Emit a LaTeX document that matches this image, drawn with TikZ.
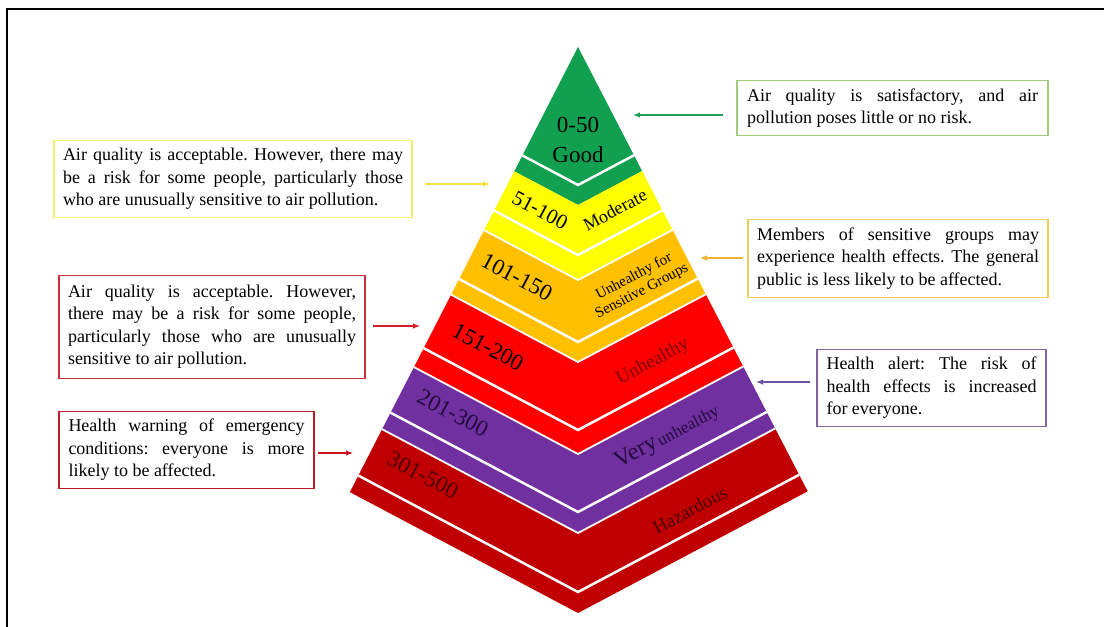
\documentclass[tikz,border=0pt]{standalone}
\usepackage{fontspec}
\setmainfont{Liberation Serif}
\usetikzlibrary{arrows.meta}
\frenchspacing
\definecolor{pgreen}{RGB}{16,160,80}
\definecolor{pyellow}{RGB}{255,255,0}
\definecolor{porange}{RGB}{255,192,0}
\definecolor{pred}{RGB}{255,0,0}
\definecolor{ppurple}{RGB}{112,48,160}
\definecolor{pdark}{RGB}{192,0,0}
\definecolor{bgreen}{RGB}{160,204,120}
\definecolor{byellow}{RGB}{244,238,110}
\definecolor{borange}{RGB}{242,204,90}
\definecolor{bred}{RGB}{196,48,56}
\definecolor{bpurple}{RGB}{128,100,162}
\definecolor{bdark}{RGB}{190,30,40}
\definecolor{agreen}{RGB}{30,158,90}
\definecolor{ayellow}{RGB}{240,228,60}
\definecolor{aorange}{RGB}{232,180,50}
\definecolor{ared}{RGB}{210,30,40}
\definecolor{apurple}{RGB}{112,80,160}
\definecolor{adark}{RGB}{200,20,30}
\definecolor{tunh}{RGB}{125,0,0}
\definecolor{tvery}{RGB}{35,10,60}
\definecolor{thaz}{RGB}{75,0,0}
\newcommand{\jline}[2]{\makebox[#1][s]{#2}}
\tikzset{
  infobox/.style={draw, line width=1.2pt, fill=white, inner xsep=0pt, inner ysep=0pt,
    align=left, font=\fontsize{18}{22.5}\selectfont, text=black},
  pointer/.style={line width=1.1pt, -{Latex[length=7pt,width=5.5pt]}},
  facesep/.style={draw=white, line width=2.5pt},
  lipsep/.style={draw=white, line width=1.8pt},
  numlabel/.style={font=\fontsize{23}{26}\selectfont, rotate=-28, text=black},
  lvllabel/.style={rotate=28, text=black},
}
\begin{document}
\begin{tikzpicture}[x=1pt,y=-1pt]
\useasboundingbox (0,0) rectangle (1104,627);
% frame
\draw[line width=2pt] (7,627) -- (7,8.5) -- (1104,8.5);

% pyramid coordinates
\coordinate (A) at (578,47);
\coordinate (L1) at (522.4,155.5); \coordinate (R1) at (634.0,155.3); \coordinate (C1) at (578,185);
\coordinate (L2) at (514.3,171.3); \coordinate (R2) at (642.1,171.0); \coordinate (C2) at (578,205);
\coordinate (L3) at (494.2,210.6); \coordinate (R3) at (662.4,210.3); \coordinate (C3) at (578,255);
\coordinate (L4) at (484.1,230.2); \coordinate (R4) at (672.5,229.9); \coordinate (C4) at (578,280);
\coordinate (L5) at (459.1,279.0); \coordinate (R5) at (697.7,278.6); \coordinate (C5) at (578,342);
\coordinate (L6) at (451.1,294.7); \coordinate (R6) at (705.8,294.3); \coordinate (C6) at (578,362);
\coordinate (L7) at (423.7,348.2); \coordinate (R7) at (733.4,347.6); \coordinate (C7) at (578,430);
\coordinate (L8) at (414.0,367.1); \coordinate (R8) at (743.2,366.5); \coordinate (C8) at (578,454);
\coordinate (L9) at (390.6,412.7); \coordinate (R9) at (766.7,412.0); \coordinate (C9) at (578,512);
\coordinate (L10) at (382.1,429.2); \coordinate (R10) at (775.2,428.5); \coordinate (C10) at (578,533);
\coordinate (L11) at (358.4,475.6); \coordinate (R11) at (799.1,474.8); \coordinate (C11) at (578,592);
\coordinate (L12) at (349.9,492.1); \coordinate (R12) at (807.7,491.3); \coordinate (C12) at (578,613);

% levels
\fill[pgreen] (A) -- (R2) -- (C2) -- (L2) -- cycle;
\fill[pyellow] (L2) -- (C2) -- (R2) -- (R4) -- (C4) -- (L4) -- cycle;
\fill[porange] (L4) -- (C4) -- (R4) -- (R6) -- (C6) -- (L6) -- cycle;
\fill[pred] (L6) -- (C6) -- (R6) -- (R8) -- (C8) -- (L8) -- cycle;
\fill[ppurple] (L8) -- (C8) -- (R8) -- (R10) -- (C10) -- (L10) -- cycle;
\fill[pdark] (L10) -- (C10) -- (R10) -- (R12) -- (C12) -- (L12) -- cycle;

% white separators
\draw[facesep] (L1) -- (C1) -- (R1);
\draw[facesep] (L3) -- (C3) -- (R3);
\draw[facesep] (L5) -- (C5) -- (R5);
\draw[facesep] (L7) -- (C7) -- (R7);
\draw[facesep] (L9) -- (C9) -- (R9);
\draw[facesep] (L11) -- (C11) -- (R11);
\draw[lipsep] (L4) -- (C4) -- (R4);
\draw[lipsep] (L6) -- (C6) -- (R6);
\draw[lipsep] (L8) -- (C8) -- (R8);
\draw[lipsep] (L10) -- (C10) -- (R10);

% labels in the pyramid
\node[font=\fontsize{23}{26}\selectfont] (t050) at (578,125) {0-50};
\node[font=\fontsize{23}{26}\selectfont] (tgood) at (578,155) {Good};
\node[numlabel, font=\fontsize{21}{24}\selectfont] (t51) at (540,210) {51-100};
\node[lvllabel, font=\fontsize{18}{20}\selectfont] (tmod) at (615,210) {Moderate};
\node[numlabel] (t101) at (517,277) {101-150};
\node[lvllabel, font=\fontsize{15}{16.5}\selectfont, align=center] (tusg) at (638,284) {Unhealthy for\\Sensitive Groups};
\node[numlabel] (t151) at (488,347) {151-200};
\node[lvllabel, font=\fontsize{19}{21}\selectfont, text=tunh] (tunh) at (653,362) {Unhealthy};
\node[numlabel, text=tvery] (t201) at (453,413) {201-300};
\node[lvllabel, text=tvery] (tvery) at (667,437) {{\fontsize{24}{26}\selectfont Very} {\fontsize{17}{20}\selectfont unhealthy}};
\node[numlabel, text=thaz] (t301) at (423,475) {301-500};
\node[lvllabel, font=\fontsize{19}{21}\selectfont, text=thaz] (thaz) at (690,510) {Hazardous};

% info boxes
\node[infobox, draw=bgreen, minimum width=311pt, minimum height=55pt] (bgood) at (892.5,108.3)
  {\jline{291pt}{Air quality is satisfactory, and air}\\pollution poses little or no risk.};
\node[infobox, draw=byellow, minimum width=358pt, minimum height=77pt] (bmod) at (233,178.7)
  {\jline{340pt}{Air quality is acceptable. However, there may}\\
   \jline{340pt}{be a risk for some people, particularly those}\\
   who are unusually sensitive to air pollution.};
\node[infobox, draw=borange, minimum width=300pt, minimum height=78pt] (busg) at (898,258.5)
  {\jline{282pt}{Members of sensitive groups may}\\
   \jline{282pt}{experience health effects. The general}\\
   public is less likely to be affected.};
\node[infobox, draw=bred, minimum width=306pt, minimum height=103pt] (bunh) at (212,326.7)
  {\jline{288pt}{Air quality is acceptable. However,}\\
   \jline{288pt}{there may be a risk for some people,}\\
   \jline{288pt}{particularly those who are unusually}\\
   sensitive to air pollution.};
\node[infobox, draw=bpurple, minimum width=229pt, minimum height=77pt] (bvery) at (931.5,387.7)
  {\jline{210pt}{Health alert: The risk of}\\
   \jline{210pt}{health effects is increased}\\
   for everyone.};
\node[infobox, draw=bdark, minimum width=255pt, minimum height=77pt] (bhaz) at (186.5,450)
  {\jline{236pt}{Health warning of emergency}\\
   \jline{236pt}{conditions: everyone is more}\\
   likely to be affected.};

% arrows
\coordinate (ag1) at (723,115); \coordinate (ag2) at (633,115);
\coordinate (ay1) at (425,184); \coordinate (ay2) at (490,184);
\coordinate (ao1) at (743,258); \coordinate (ao2) at (700,258);
\coordinate (ar1) at (373,326); \coordinate (ar2) at (420,326);
\coordinate (ap1) at (810,382); \coordinate (ap2) at (756,382);
\coordinate (ad1) at (318,453); \coordinate (ad2) at (353,453);
\draw[pointer, agreen] (ag1) -- (ag2);
\draw[pointer, ayellow] (ay1) -- (ay2);
\draw[pointer, aorange] (ao1) -- (ao2);
\draw[pointer, ared] (ar1) -- (ar2);
\draw[pointer, apurple] (ap1) -- (ap2);
\draw[pointer, adark] (ad1) -- (ad2);
\end{tikzpicture}
\end{document}
